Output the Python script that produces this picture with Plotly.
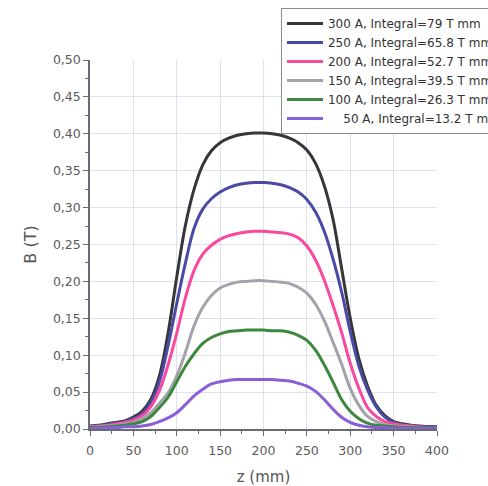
import plotly.graph_objects as go

z = [0, 10, 20, 30, 40, 50, 60, 70, 80, 90, 100, 110, 120, 130, 140, 150, 160, 170, 180, 190, 200,
     210, 220, 230, 240, 250, 260, 270, 280, 290, 300, 310, 320, 330, 340, 350, 360, 370, 380, 390, 400]

b300 = [0.004, 0.005, 0.007, 0.009, 0.011, 0.016, 0.024, 0.040, 0.072, 0.130, 0.206, 0.276, 0.325, 0.358,
        0.377, 0.388, 0.394, 0.398, 0.400, 0.401, 0.401, 0.400, 0.398, 0.394, 0.388, 0.378, 0.360, 0.330,
        0.285, 0.218, 0.150, 0.095, 0.058, 0.032, 0.018, 0.010, 0.007, 0.005, 0.004, 0.003, 0.003]
b250 = [0.003, 0.004, 0.006, 0.008, 0.010, 0.014, 0.021, 0.036, 0.064, 0.113, 0.170, 0.225, 0.272, 0.298,
        0.312, 0.321, 0.327, 0.331, 0.333, 0.334, 0.334, 0.333, 0.331, 0.327, 0.321, 0.311, 0.294, 0.268,
        0.231, 0.186, 0.132, 0.085, 0.053, 0.030, 0.016, 0.009, 0.006, 0.004, 0.003, 0.003, 0.002]
b200 = [0.003, 0.004, 0.005, 0.007, 0.009, 0.012, 0.018, 0.030, 0.052, 0.087, 0.130, 0.178, 0.215, 0.237,
        0.249, 0.257, 0.262, 0.265, 0.267, 0.268, 0.268, 0.267, 0.266, 0.264, 0.259, 0.248, 0.229, 0.202,
        0.168, 0.131, 0.089, 0.055, 0.029, 0.017, 0.010, 0.007, 0.005, 0.004, 0.003, 0.002, 0.002]
b150 = [0.002, 0.003, 0.004, 0.005, 0.007, 0.009, 0.014, 0.022, 0.035, 0.049, 0.072, 0.104, 0.140, 0.165,
        0.181, 0.191, 0.196, 0.199, 0.200, 0.201, 0.201, 0.200, 0.199, 0.197, 0.192, 0.184, 0.169, 0.147,
        0.118, 0.088, 0.055, 0.032, 0.017, 0.010, 0.006, 0.004, 0.003, 0.003, 0.002, 0.002, 0.002]
b100 = [0.002, 0.002, 0.003, 0.004, 0.005, 0.007, 0.010, 0.017, 0.029, 0.043, 0.064, 0.085, 0.102, 0.116,
        0.124, 0.129, 0.132, 0.133, 0.134, 0.134, 0.134, 0.133, 0.133, 0.131, 0.127, 0.120, 0.107, 0.087,
        0.064, 0.040, 0.024, 0.014, 0.008, 0.005, 0.004, 0.003, 0.002, 0.002, 0.002, 0.002, 0.002]
b50 = [0.001, 0.001, 0.002, 0.002, 0.003, 0.003, 0.004, 0.006, 0.010, 0.015, 0.022, 0.033, 0.045, 0.054,
       0.061, 0.064, 0.066, 0.067, 0.067, 0.067, 0.067, 0.067, 0.066, 0.065, 0.062, 0.058, 0.051, 0.040,
       0.027, 0.016, 0.009, 0.005, 0.003, 0.002, 0.002, 0.001, 0.001, 0.001, 0.001, 0.001, 0.001]

names = ["300 A, Integral=79 T mm", "250 A, Integral=65.8 T mm", "200 A, Integral=52.7 T mm",
         "150 A, Integral=39.5 T mm", "100 A, Integral=26.3 T mm", "\u2007\u200750 A, Integral=13.2 T mm"]
series = [b300, b250, b200, b150, b100, b50]
colors = ["#363638", "#4a4aa6", "#f9489f", "#a2a2aa", "#3e873e", "#8a5ed6"]

FONT = "DejaVu Sans, Liberation Sans, Arial"

fig = go.Figure()
for n, s, c in zip(names, series, colors):
    fig.add_trace(go.Scatter(x=z, y=s, mode="lines", name=n,
                             line=dict(color=c, width=3, shape="spline", smoothing=1.0)))

axis_common = dict(
    showline=True, linecolor="#6a6a72", linewidth=1.5,
    ticks="outside", ticklen=5, tickwidth=1.2, tickcolor="#6a6a72",
    showgrid=True, gridcolor="#dfe1ee", gridwidth=1,
    zeroline=False, mirror=False,
    tickfont=dict(family=FONT, size=12.5, color="#5a5a5a"),
    minor=dict(ticks="outside", ticklen=3, tickcolor="#6a6a72", showgrid=False),
)

fig.update_layout(
    width=488, height=486,
    margin=dict(l=90, r=51, t=60, b=57, autoexpand=False),
    paper_bgcolor="white", plot_bgcolor="white",
    separators=", ",
    font=dict(family=FONT, color="#555555"),
    xaxis=dict(range=[0, 400], dtick=50, tick0=0, ticklabelstandoff=4,
               title=dict(text="z (mm)", font=dict(family=FONT, size=15, color="#555555"), standoff=20),
               **axis_common),
    yaxis=dict(range=[0, 0.5], dtick=0.05, tick0=0, tickformat=".2f",
               title=dict(text="B (T)", font=dict(family=FONT, size=16, color="#555555"), standoff=12),
               **axis_common),
    legend=dict(x=0.5504, y=1.141, xanchor="left", yanchor="top",
                bgcolor="white", bordercolor="#8a8a8a", borderwidth=1,
                font=dict(family=FONT, size=12, color="#333333"),
                tracegroupgap=0, itemwidth=36),
    showlegend=True,
)
fig.update_xaxes(minor=dict(dtick=25))
fig.update_yaxes(minor=dict(dtick=0.025))

fig.write_html("out.html")
